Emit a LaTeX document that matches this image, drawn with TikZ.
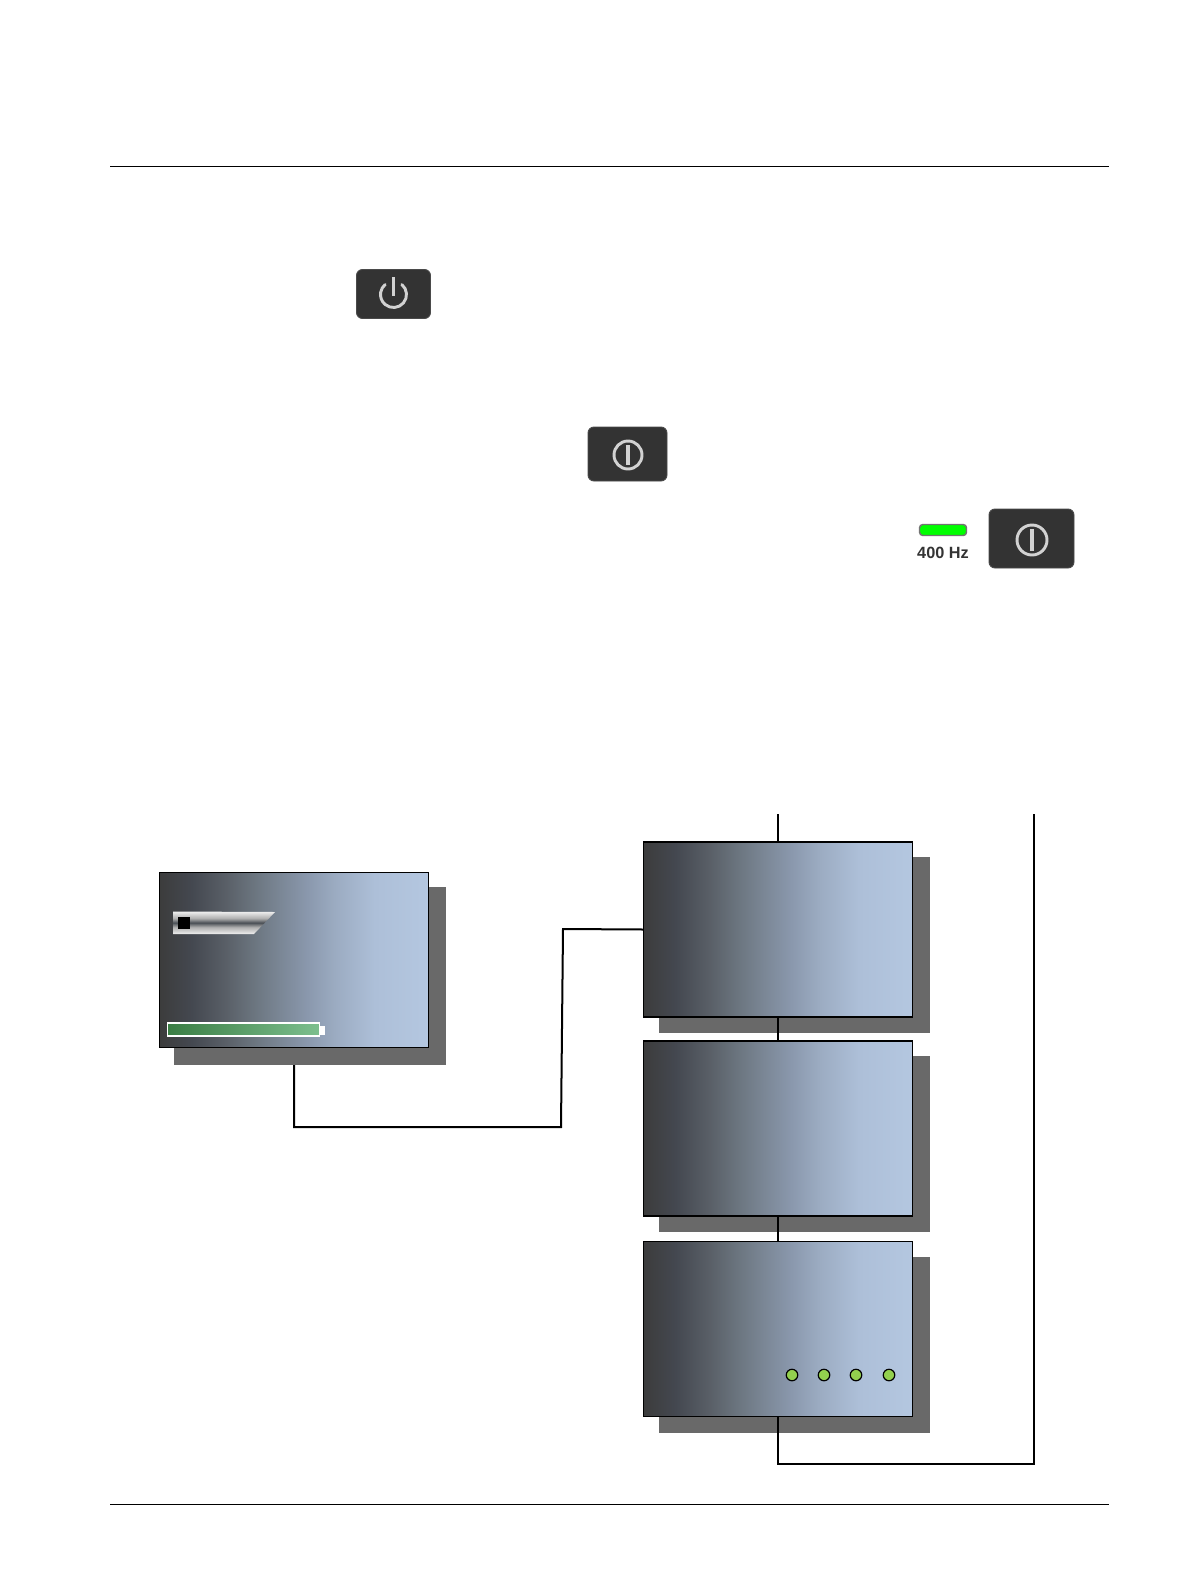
\documentclass[tikz,border=0pt]{standalone}
\usepackage{fontspec}
\setmainfont{Liberation Sans}
\usetikzlibrary{backgrounds}
\definecolor{shadowgrey}{HTML}{696969}
\definecolor{btnfill}{HTML}{333333}
\definecolor{btnedge}{HTML}{4A4A4A}
\definecolor{btnsym}{HTML}{D2D2D2}
\definecolor{ledgreen}{HTML}{93D04E}
\definecolor{psA}{HTML}{3C3C3C}
\definecolor{psB}{HTML}{444850}
\definecolor{psC}{HTML}{5A6068}
\definecolor{psD}{HTML}{6B757F}
\definecolor{psE}{HTML}{7B8796}
\definecolor{psF}{HTML}{8A98AD}
\definecolor{psG}{HTML}{9BABC1}
\definecolor{psH}{HTML}{ADBFD8}
\definecolor{psI}{HTML}{B4C7E0}
\definecolor{batA}{HTML}{3A7D44}
\definecolor{batB}{HTML}{7DBF8E}
\definecolor{slA}{HTML}{F0F0F0}
\definecolor{slB}{HTML}{B0B0B0}
\definecolor{slC}{HTML}{4A4F55}
\pgfdeclarehorizontalshading{panelshade}{100bp}{
  color(0bp)=(psA);
  color(25bp)=(psA);
  color(31bp)=(psB);
  color(37.5bp)=(psC);
  color(42.5bp)=(psD);
  color(47.5bp)=(psE);
  color(52.5bp)=(psF);
  color(57.5bp)=(psG);
  color(65bp)=(psH);
  color(75bp)=(psI);
  color(100bp)=(psI)}
\pgfdeclarehorizontalshading{batteryshade}{100bp}{
  color(0bp)=(batA);
  color(25bp)=(batA);
  color(75bp)=(batB);
  color(100bp)=(batB)}
\pgfdeclareverticalshading{slidershade}{100bp}{
  color(0bp)=(slA);
  color(25bp)=(slA);
  color(40bp)=(slB);
  color(50bp)=(slC);
  color(60bp)=(slB);
  color(75bp)=(slA);
  color(100bp)=(slA)}
\newlength{\pxu}
\setlength{\pxu}{.75pt}
\tikzset{
  every node/.style={inner sep=0pt,outer sep=0pt},
  panel/.style={draw=black,line width=.9pt,shading=panelshade,anchor=north west,minimum width=269\pxu,minimum height=175\pxu},
  panelshadow/.style={fill=shadowgrey,anchor=north west,minimum width=271\pxu,minimum height=176\pxu},
  rule/.style={draw=black,line width=.6pt},
  wire/.style={draw=black,line width=1.5pt,line join=miter},
  button/.style={draw=btnedge,line width=.7pt,fill=btnfill,rounded corners=4.5pt,anchor=north west},
  symbol/.style={draw=btnsym,line width=2.2pt},
  led/.style={circle,draw=black,line width=.9pt,fill=ledgreen,minimum size=11.5\pxu},
}
\begin{document}
\begin{tikzpicture}[x=.75pt,y=-.75pt]
\useasboundingbox (0,0) rectangle (1191,1588);
\begin{pgfonlayer}{background}
  \fill[white] (0,0) rectangle (1191,1588);
\end{pgfonlayer}
% page rules
\coordinate (ruleTL) at (110,166);
\coordinate (ruleTR) at (1109,166);
\coordinate (ruleBL) at (110,1504);
\coordinate (ruleBR) at (1109,1504);
\draw[rule] (ruleTL) -- (ruleTR);
\draw[rule] (ruleBL) -- (ruleBR);
% buttons
\node[button,minimum width=74\pxu,minimum height=49\pxu] (btnA) at (356.5,269.5) {};
\draw[symbol,line cap=round] (393.5,294.5) ++(-50:13) arc[start angle=-50,end angle=230,radius=13];
\draw[symbol,line width=2.6pt] (393.5,277) -- (393.5,296);
\node[button,minimum width=79\pxu,minimum height=54\pxu] (btnB) at (588,427) {};
\draw[symbol] (628,455) circle[radius=14];
\draw[symbol,line width=3pt] (628,445) -- (628,465);
\node[button,minimum width=85\pxu,minimum height=59\pxu] (btnC) at (989,509) {};
\draw[symbol] (1032,540) circle[radius=15];
\draw[symbol,line width=3pt] (1032,529) -- (1032,551);
% 400 Hz indicator
\node[draw=black!55,line width=1.1pt,fill=green,rounded corners=2.5pt,anchor=north west,minimum width=47\pxu,minimum height=11\pxu] (hzled) at (919.5,524.5) {};
\node[text=black!80,font=\bfseries\fontsize{12.2pt}{14pt}\selectfont] (hzlabel) at (943,553) {400 Hz};
% left panel
\node[panelshadow,minimum width=272\pxu,minimum height=178\pxu] (shA) at (174,887) {};
\node[panel] (pA) at (159.5,872.5) {};
% slider
\begin{scope}
  \clip (173,911.5) -- (275,912) -- (254,934) -- (173,934) -- cycle;
  \shade[shading=slidershade] (173,911.5) rectangle (275,934);
\end{scope}
\node[fill=black,anchor=north west,minimum width=12\pxu,minimum height=12\pxu] (sliderknob) at (178,917) {};
% battery
\node[fill=white,anchor=north west,minimum width=5\pxu,minimum height=9\pxu] (batnub) at (320,1025.5) {};
\node[draw=white,line width=1.1pt,shading=batteryshade,anchor=north west,minimum width=152\pxu,minimum height=13\pxu] (battery) at (167.5,1023) {};
% right panels
\node[panelshadow] (shB) at (659,857) {};
\node[panelshadow] (shC) at (659,1056) {};
\node[panelshadow] (shD) at (659,1257) {};
\node[panel] (pB) at (643.5,842) {};
\node[panel] (pC) at (643.5,1041) {};
\node[panel] (pD) at (643.5,1241.5) {};
% LEDs
\node[led] (ledA) at (792,1375) {};
\node[led] (ledB) at (824,1375) {};
\node[led] (ledC) at (856,1375) {};
\node[led] (ledD) at (889,1375) {};
% connectors
\coordinate (topIn) at (778,814);
\coordinate (topRight) at (1034,814);
\coordinate (botRight) at (1034,1464);
\coordinate (botMid) at (778,1464);
\coordinate (aDown) at (294,1127);
\coordinate (aMid) at (561,1127);
\coordinate (bLeft) at (563,929);
\begin{pgfonlayer}{background}
  \draw[wire] (pA.south) -- (aDown) -- (aMid) -- (bLeft) -- (pB.west);
\end{pgfonlayer}
\draw[wire] (topIn) -- (pB.north);
\draw[wire] (pB.south) -- (pC.north);
\draw[wire] (pC.south) -- (pD.north);
\draw[wire] (pD.south) -- (botMid) -- (botRight) -- (topRight);
\end{tikzpicture}
\end{document}
